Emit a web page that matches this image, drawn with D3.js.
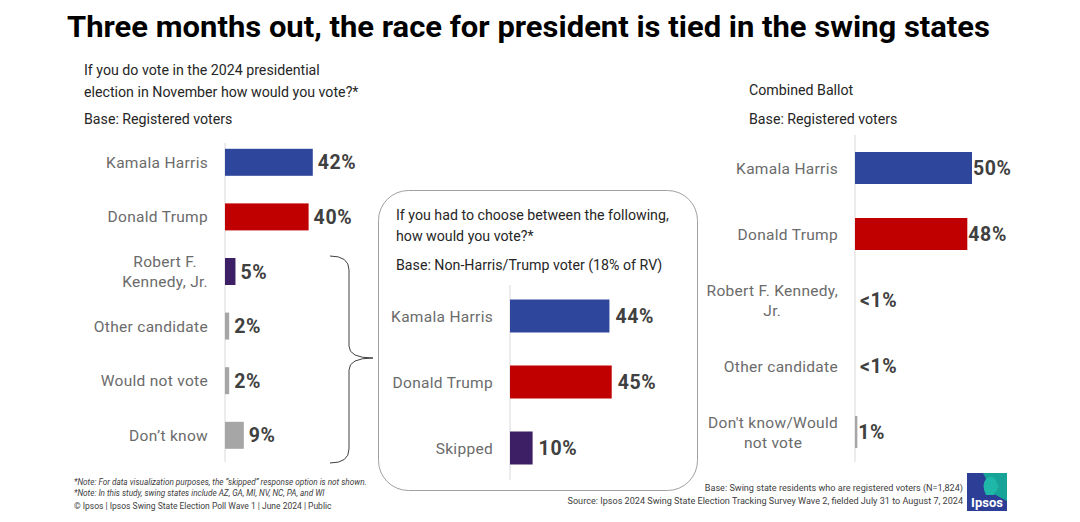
<!DOCTYPE html>
<meta charset="utf-8">
<script src="https://d3js.org/d3.v7.min.js"></script>
<style>
  body { margin: 0; background: #fff; }
  text { font-family: Roboto, "Noto Sans", sans-serif; }
</style>
<div id="chart"></div>
<script>
// data
const leftCats = ["Kamala Harris", "Donald Trump", "Robert F.|Kennedy, Jr.", "Other candidate", "Would not vote", "Don\u2019t know"];
const leftVals = [42, 40, 5, 2, 2, 9];
const leftColors = ["#2E469C", "#C00000", "#3D1F66", "#A6A6A6", "#A6A6A6", "#A6A6A6"];

const midCats = ["Kamala Harris", "Donald Trump", "Skipped"];
const midVals = [44, 45, 10];
const midColors = ["#2E469C", "#C00000", "#3D1F66"];

const rightCats = ["Kamala Harris", "Donald Trump", "Robert F. Kennedy,|Jr.", "Other candidate", "Don't know/Would|not vote"];
const rightVals = [50, 48, 0, 0, 1];
const rightLabels = ["50%", "48%", "<1%", "<1%", "1%"];
const rightColors = ["#2E469C", "#C00000", "#A6A6A6", "#A6A6A6", "#A6A6A6"];

const W = 1080, H = 522;
const svg = d3.select("#chart").append("svg").attr("width", W).attr("height", H);

svg.append("text").attr("x", 67).attr("y", 37)
  .attr("textLength", 923).attr("lengthAdjust", "spacingAndGlyphs")
  .style("font-size", "30px").style("font-weight", "700").attr("fill", "#000")
  .text("Three months out, the race for president is tied in the swing states");

function header(x, lines) {
  lines.forEach(l => {
    svg.append("text").attr("x", x).attr("y", l[0]).style("font-size", "14.2px")
      .attr("fill", "#262626").text(l[1]);
  });
}
header(84, [[75, "If you do vote in the 2024 presidential"], [97, "election in November how would you vote?*"], [124, "Base: Registered voters"]]);
header(749, [[95, "Combined Ballot"], [124, "Base: Registered voters"]]);

// middle rounded box
svg.append("rect").attr("x", 378.5).attr("y", 190.5).attr("width", 319).attr("height", 300)
  .attr("rx", 30).attr("fill", "none").attr("stroke", "#A0A0A0").attr("stroke-width", 1);
header(396, [[220, "If you had to choose between the following,"], [241, "how would you vote?*"], [270, "Base: Non-Harris/Trump voter (18% of RV)"]]);

// brace
svg.append("path")
  .attr("d", "M330,256 Q349,256 349,270 L349,346 Q349,358 373,358 Q349,358 349,370 L349,449 Q349,463 330,463")
  .attr("fill", "none").attr("stroke", "#404040").attr("stroke-width", 1);

function panel(cfg) {
  const x = d3.scaleLinear().domain([0, 100]).range([cfg.x0, cfg.x0 + cfg.pxPer * 100]);
  const y = d3.scalePoint().domain(cfg.cats).range(cfg.yr).padding(0.5);
  const g = svg.append("g");

  g.append("line").attr("x1", cfg.x0).attr("x2", cfg.x0)
    .attr("y1", cfg.axis[0]).attr("y2", cfg.axis[1])
    .attr("stroke", "#D9D9D9").attr("stroke-width", 1);

  g.selectAll("rect.bar").data(cfg.vals).join("rect").attr("class", "bar")
    .attr("x", x(0))
    .attr("y", (d, i) => y(cfg.cats[i]) - cfg.bh / 2)
    .attr("width", d => x(d) - x(0))
    .attr("height", cfg.bh)
    .attr("fill", (d, i) => cfg.colors[i]);

  g.selectAll("text.val").data(cfg.vals).join("text").attr("class", "val")
    .attr("x", d => x(d) + (d > 0 ? cfg.gap : cfg.gap0))
    .attr("y", (d, i) => y(cfg.cats[i]) + 7)
    .style("font-size", "19.5px").style("font-weight", "700").style("letter-spacing", "0.6px")
    .attr("fill", "#404040")
    .text((d, i) => cfg.labels ? cfg.labels[i] : d + "%");

  cfg.cats.forEach(c => {
    const parts = c.split("|");
    const t = g.append("text")
      .attr("y", y(c) + 5.5 - (parts.length - 1) * 10)
      .style("font-size", "15.5px").style("letter-spacing", "0.3px").attr("fill", "#6B6B6B");
    const spans = parts.map((p, k) => t.append("tspan").attr("dy", k ? 20 : 0).text(p));
    if (parts.length === 1) {
      t.attr("text-anchor", "end");
      spans[0].attr("x", cfg.lx);
    } else {
      const maxW = d3.max(spans, s => s.node().getComputedTextLength());
      t.attr("text-anchor", "middle");
      spans.forEach(s => s.attr("x", cfg.lx - maxW / 2));
    }
  });
}

panel({ cats: leftCats, vals: leftVals, colors: leftColors, x0: 225, pxPer: 2.09,
  yr: [135, 462.6], axis: [143, 462], bh: 27, gap: 5, gap0: 5, lx: 208 });
panel({ cats: midCats, vals: midVals, colors: midColors, x0: 510, pxPer: 2.26,
  yr: [283, 481], axis: [285, 480], bh: 33, gap: 6, gap0: 6, lx: 493 });
panel({ cats: rightCats, vals: rightVals, colors: rightColors, labels: rightLabels, x0: 855, pxPer: 2.34,
  yr: [135, 465], axis: [135, 462], bh: 32, gap: 1, gap0: 5, lx: 838 });

// footnotes
const fl = svg.append("g").attr("fill", "#404040");
fl.append("text").attr("x", 74).attr("y", 485).style("font-size", "8.2px").style("font-style", "italic")
  .text("*Note: For data visualization purposes, the \u201cskipped\u201d response option is not shown.");
fl.append("text").attr("x", 74).attr("y", 496).style("font-size", "8.2px").style("font-style", "italic")
  .text("*Note: In this study, swing states include  AZ, GA, MI, NV, NC, PA, and WI");
fl.append("text").attr("x", 74).attr("y", 509).style("font-size", "8.5px")
  .text("\u00a9 Ipsos | Ipsos Swing State Election Poll Wave 1 | June 2024 | Public");
fl.append("text").attr("x", 963).attr("y", 491).attr("text-anchor", "end").style("font-size", "9.1px")
  .text("Base: Swing state residents who are registered  voters (N=1,824)");
fl.append("text").attr("x", 963).attr("y", 504).attr("text-anchor", "end").style("font-size", "9.1px")
  .text("Source: Ipsos 2024 Swing State Election Tracking Survey Wave 2, fielded July 31 to August 7, 2024");

// logo
const lg = svg.append("g").attr("transform", "translate(967,473)");
lg.append("rect").attr("width", 40).attr("height", 38).attr("fill", "#2C3E96");
lg.append("path").attr("d", "M16,0 L40,0 L40,28 Q32,24 27,21 Z").attr("fill", "#17A398");
lg.append("path").attr("d", "M19,22 Q14,12 19,6 Q25,1 29,7 L30,11 L32,14 L30,15 Q31,18 28,19 L27,22 Z").attr("fill", "#1FB8A8");
lg.append("text").attr("x", 20).attr("y", 34).attr("text-anchor", "middle")
  .style("font-size", "13px").style("font-weight", "700").attr("fill", "#fff").text("Ipsos");
</script>
